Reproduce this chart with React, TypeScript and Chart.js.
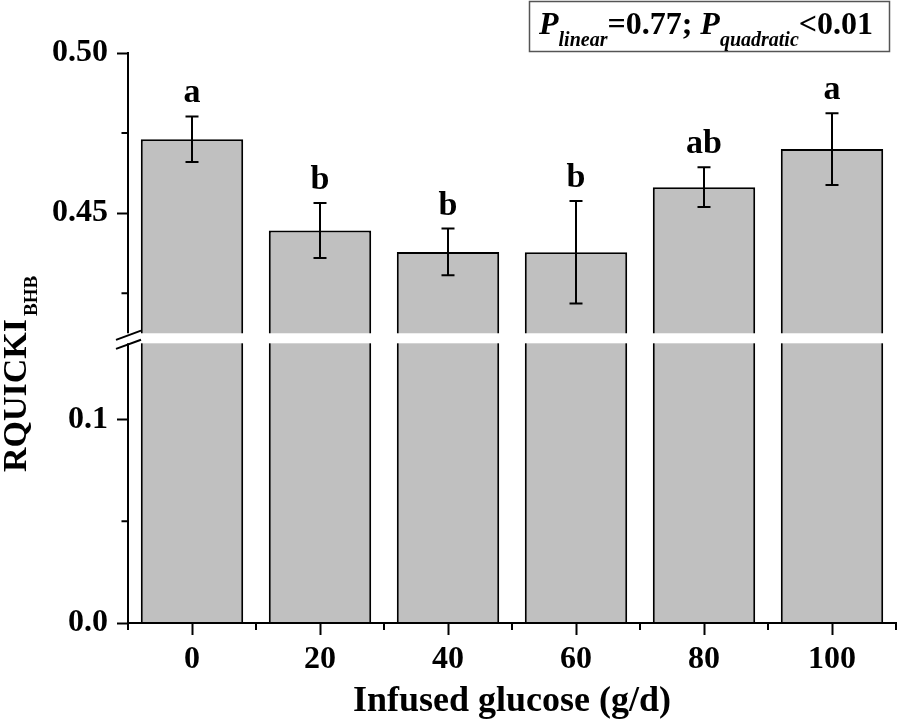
import React, { useEffect, useRef } from 'react';
import { Chart, registerables, LinearScale } from 'chart.js';

Chart.register(...registerables);

// ---- data ----
const categories = ['0', '20', '40', '60', '80', '100'];
const means = [0.4731, 0.4446, 0.4379, 0.4378, 0.4581, 0.47];
const sems = [0.0071, 0.0086, 0.0073, 0.016, 0.0062, 0.0112];
const letters = ['a', 'b', 'b', 'b', 'ab', 'a'];
const yMajorTicks = [0, 0.1, 0.45, 0.5];
const yMinorTicks = [0.05, 0.425, 0.475];
const yTickLabels: Record<string, string> = { '0': '0.0', '0.1': '0.1', '0.45': '0.45', '0.5': '0.50' };
const LOW_MAX = 0.1375;
const HIGH_MIN = 0.4125;
const Y_MAX = 0.5;

const FONT = '"Liberation Serif", "Times New Roman", serif';

// fractions of the axis height for the broken axis
const LOW_FRAC = 0.4907;
const GAP_FRAC = 0.0176;
const HIGH_FRAC = 1 - LOW_FRAC - GAP_FRAC;

class BrokenLinearScale extends LinearScale {
  static id = 'brokenLinear';
  static defaults = {};
  buildTicks() {
    (this as any).start = (this as any).min;
    (this as any).end = (this as any).max;
    return [...yMajorTicks, ...yMinorTicks].sort((a, b) => a - b).map((v) => ({ value: v }));
  }
  getPixelForValue(value: number) {
    let d: number;
    if (value <= LOW_MAX) d = (value / LOW_MAX) * LOW_FRAC;
    else if (value >= HIGH_MIN) d = LOW_FRAC + GAP_FRAC + ((value - HIGH_MIN) / (Y_MAX - HIGH_MIN)) * HIGH_FRAC;
    else d = LOW_FRAC + (GAP_FRAC * (value - LOW_MAX)) / (HIGH_MIN - LOW_MAX);
    return (this as any).getPixelForDecimal(d);
  }
  getValueForPixel(pixel: number) {
    const d = (this as any).getDecimalForPixel(pixel);
    if (d <= LOW_FRAC) return (d / LOW_FRAC) * LOW_MAX;
    if (d >= LOW_FRAC + GAP_FRAC) return HIGH_MIN + ((d - LOW_FRAC - GAP_FRAC) / HIGH_FRAC) * (Y_MAX - HIGH_MIN);
    return LOW_MAX + ((d - LOW_FRAC) / GAP_FRAC) * (HIGH_MIN - LOW_MAX);
  }
}
Chart.register(BrokenLinearScale as any);

const decorPlugin = {
  id: 'decor',
  afterDatasetsDraw(chart: any) {
    const ctx = chart.ctx;
    const x = chart.scales.x;
    const y = chart.scales.y;
    ctx.save();
    ctx.strokeStyle = '#000';
    ctx.fillStyle = '#000';
    ctx.lineWidth = 2;
    means.forEach((m, i) => {
      const px = x.getPixelForValue(i);
      const top = y.getPixelForValue(m + sems[i]);
      const bot = y.getPixelForValue(m - sems[i]);
      ctx.beginPath();
      ctx.moveTo(px, top);
      ctx.lineTo(px, bot);
      ctx.moveTo(px - 6.5, top);
      ctx.lineTo(px + 6.5, top);
      ctx.moveTo(px - 6.5, bot);
      ctx.lineTo(px + 6.5, bot);
      ctx.stroke();
      ctx.font = `bold 34px ${FONT}`;
      ctx.textAlign = 'center';
      ctx.textBaseline = 'alphabetic';
      ctx.fillText(letters[i], px, top - 14);
    });
    ctx.restore();
  },
  afterDraw(chart: any) {
    const ctx = chart.ctx;
    const x = chart.scales.x;
    const y = chart.scales.y;
    const area = chart.chartArea;
    ctx.save();
    ctx.strokeStyle = '#000';
    ctx.lineWidth = 2;
    // minor ticks
    ctx.beginPath();
    yMinorTicks.forEach((v) => {
      const py = y.getPixelForValue(v);
      ctx.moveTo(area.left, py);
      ctx.lineTo(area.left - 6.5, py);
    });
    for (let i = 0; i <= categories.length; i++) {
      const px = x.getPixelForValue(i - 0.5);
      ctx.moveTo(px, area.bottom);
      ctx.lineTo(px, area.bottom + 7);
    }
    ctx.stroke();

    // axis break band
    const gTop = y.getPixelForValue(HIGH_MIN);
    const gBot = y.getPixelForValue(LOW_MAX);
    ctx.fillStyle = '#fff';
    ctx.fillRect(area.left - 2, gTop, area.right - area.left + 4, gBot - gTop);
    ctx.beginPath();
    const ax = area.left;
    [gTop + 2, gBot + 1].forEach((cy) => {
      ctx.moveTo(ax - 12, cy + 4.6);
      ctx.lineTo(ax + 13, cy - 4.6);
    });
    ctx.stroke();

    // y-axis title with subscript
    ctx.fillStyle = '#000';
    ctx.save();
    ctx.translate(25.5, 472);
    ctx.rotate(-Math.PI / 2);
    ctx.textAlign = 'left';
    ctx.textBaseline = 'alphabetic';
    ctx.font = `bold 34px ${FONT}`;
    ctx.fillText('RQUICKI', 0, 0);
    const w = ctx.measureText('RQUICKI').width;
    ctx.font = `bold 19px ${FONT}`;
    ctx.fillText('BHB', w + 3, 11.5);
    ctx.restore();

    // P-value box
    ctx.strokeStyle = '#555';
    ctx.lineWidth = 1.5;
    ctx.strokeRect(529.5, 1.5, 360, 50);
    const parts: [string, string, number][] = [
      ['P', `italic bold 32px ${FONT}`, 0],
      ['linear', `italic bold 20px ${FONT}`, 12],
      ['=0.77; ', `bold 32px ${FONT}`, 0],
      ['P', `italic bold 32px ${FONT}`, 0],
      ['quadratic', `italic bold 20px ${FONT}`, 12],
      ['<0.01', `bold 32px ${FONT}`, 0],
    ];
    let cx = 539;
    const base = 33.5;
    ctx.fillStyle = '#000';
    ctx.textAlign = 'left';
    ctx.textBaseline = 'alphabetic';
    parts.forEach(([t, f, dy]) => {
      ctx.font = f;
      ctx.fillText(t, cx, base + dy);
      cx += ctx.measureText(t).width;
    });
    ctx.restore();
  },
};

export default function App() {
  const ref = useRef<HTMLCanvasElement>(null);
  useEffect(() => {
    if (!ref.current) return;
    const chart = new Chart(ref.current, {
      type: 'bar',
      data: {
        labels: categories,
        datasets: [
          {
            data: means,
            backgroundColor: '#c0c0c0',
            borderColor: '#000',
            borderWidth: 2,
            borderSkipped: 'bottom',
            categoryPercentage: 0.8,
            barPercentage: 1.0,
          },
        ],
      },
      options: {
        animation: false,
        responsive: false,
        devicePixelRatio: 1,
        layout: { padding: { top: 53, right: 4, bottom: 0, left: 0 } },
        plugins: { legend: { display: false }, tooltip: { enabled: false }, title: { display: false } },
        scales: {
          x: {
            type: 'category',
            offset: true,
            grid: { display: true, drawOnChartArea: false, offset: false, tickLength: 12, tickWidth: 2, tickColor: '#000' },
            border: { display: true, color: '#000', width: 2, z: 1 },
            ticks: { color: '#000', font: { family: FONT, size: 32, weight: 'bold' }, padding: 6, maxRotation: 0, autoSkip: false },
            title: {
              display: true,
              text: 'Infused glucose (g/d)',
              color: '#000',
              font: { family: FONT, size: 36, weight: 'bold' },
              padding: { top: 0, bottom: 0 },
            },
            afterFit: (s: any) => {
              s.height = 100;
            },
          },
          y: {
            type: 'brokenLinear' as any,
            min: 0,
            max: Y_MAX,
            grid: {
              display: true,
              drawOnChartArea: false,
              tickLength: 11,
              tickWidth: 2,
              tickColor: (c: any) => (yMajorTicks.includes(c.tick?.value) ? '#000' : 'rgba(0,0,0,0)'),
            },
            border: { display: true, color: '#000', width: 2, z: 1 },
            ticks: {
              color: '#000',
              font: { family: FONT, size: 32, weight: 'bold' },
              padding: 9,
              autoSkip: false,
              callback: (v: any) => yTickLabels[String(v)] ?? '',
            },
            afterFit: (s: any) => {
              s.width = 128;
            },
          } as any,
        },
      },
      plugins: [decorPlugin],
    } as any);
    return () => chart.destroy();
  }, []);
  return (
    <div style={{ position: 'absolute', left: 0, top: 0, width: 900, height: 723, background: '#fff' }}>
      <canvas ref={ref} width={900} height={723} style={{ display: 'block' }} />
    </div>
  );
}
